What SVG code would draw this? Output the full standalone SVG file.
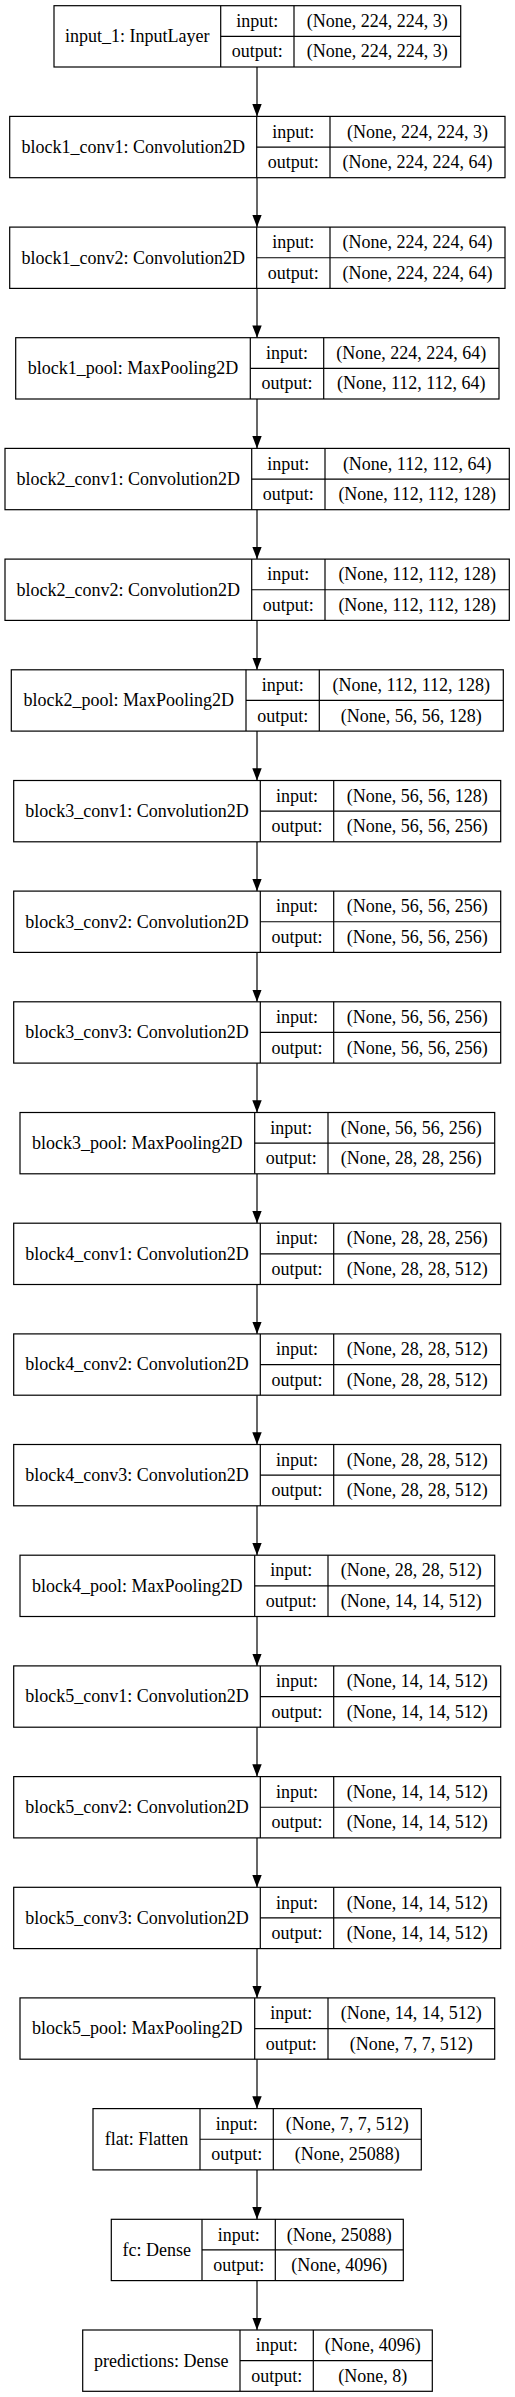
<svg xmlns="http://www.w3.org/2000/svg" width="515" height="2397" viewBox="0 0 515 2397">
<style>
rect.b{fill:#fff;stroke:#000;stroke-width:1.2}
line.d{stroke:#000;stroke-width:1.2}
text{font-family:"Liberation Serif","Times New Roman",serif;font-size:18px;fill:#000;text-anchor:middle}
.e{stroke:#000;stroke-width:1.2;fill:none;marker-end:url(#ah)}
</style>
<defs>
<marker id="ah" markerUnits="userSpaceOnUse" viewBox="0 0 12.3 9.4" markerWidth="12.3" markerHeight="9.4" refX="12.3" refY="4.7" orient="auto">
<path d="M0,0 L12.3,4.7 L0,9.4 z" fill="#000"/>
</marker>
</defs>
<rect width="515" height="2397" fill="#fff"/>
<g id="connectors">
<path class="e" d="M257,67 V116.4"/>
<path class="e" d="M257,177.7 V227.1"/>
<path class="e" d="M257,288.4 V337.7"/>
<path class="e" d="M257,399 V448.4"/>
<path class="e" d="M257,509.7 V559.1"/>
<path class="e" d="M257,620.4 V669.8"/>
<path class="e" d="M257,731.1 V780.5"/>
<path class="e" d="M257,841.8 V891.1"/>
<path class="e" d="M257,952.4 V1001.8"/>
<path class="e" d="M257,1063.1 V1112.5"/>
<path class="e" d="M257,1173.8 V1223.2"/>
<path class="e" d="M257,1284.5 V1333.9"/>
<path class="e" d="M257,1395.2 V1444.5"/>
<path class="e" d="M257,1505.8 V1555.2"/>
<path class="e" d="M257,1616.5 V1665.9"/>
<path class="e" d="M257,1727.2 V1776.6"/>
<path class="e" d="M257,1837.9 V1887.3"/>
<path class="e" d="M257,1948.6 V1997.9"/>
<path class="e" d="M257,2059.2 V2108.6"/>
<path class="e" d="M257,2169.9 V2219.3"/>
<path class="e" d="M257,2280.6 V2330"/>
</g>

<g id="input_1" transform="translate(0,5.7)">
<rect class="b" x="54" y="0" width="406.7" height="61.3"/>
<line class="d" x1="220.7" y1="0" x2="220.7" y2="61.3"/><line class="d" x1="294" y1="0" x2="294" y2="61.3"/><line class="d" x1="220.7" y1="30.65" x2="460.7" y2="30.65"/>
<text x="137.3" y="36.6">input_1: InputLayer</text>
<text x="257.3" y="21.3">input:</text><text x="257.3" y="51.8">output:</text>
<text x="377.3" y="21.3">(None, 224, 224, 3)</text><text x="377.3" y="51.8">(None, 224, 224, 3)</text>
</g>

<g id="block1_conv1" transform="translate(0,116.4)">
<rect class="b" x="9.7" y="0" width="495.3" height="61.3"/>
<line class="d" x1="256.7" y1="0" x2="256.7" y2="61.3"/><line class="d" x1="330" y1="0" x2="330" y2="61.3"/><line class="d" x1="256.7" y1="30.65" x2="505" y2="30.65"/>
<text x="133.2" y="36.6">block1_conv1: Convolution2D</text>
<text x="293.3" y="21.3">input:</text><text x="293.3" y="51.8">output:</text>
<text x="417.5" y="21.3">(None, 224, 224, 3)</text><text x="417.5" y="51.8">(None, 224, 224, 64)</text>
</g>

<g id="block1_conv2" transform="translate(0,227.1)">
<rect class="b" x="9.7" y="0" width="495.3" height="61.3"/>
<line class="d" x1="256.7" y1="0" x2="256.7" y2="61.3"/><line class="d" x1="330" y1="0" x2="330" y2="61.3"/><line class="d" x1="256.7" y1="30.65" x2="505" y2="30.65"/>
<text x="133.2" y="36.6">block1_conv2: Convolution2D</text>
<text x="293.3" y="21.3">input:</text><text x="293.3" y="51.8">output:</text>
<text x="417.5" y="21.3">(None, 224, 224, 64)</text><text x="417.5" y="51.8">(None, 224, 224, 64)</text>
</g>

<g id="block1_pool" transform="translate(0,337.7)">
<rect class="b" x="15.7" y="0" width="483.3" height="61.3"/>
<line class="d" x1="250.3" y1="0" x2="250.3" y2="61.3"/><line class="d" x1="323.7" y1="0" x2="323.7" y2="61.3"/><line class="d" x1="250.3" y1="30.65" x2="499" y2="30.65"/>
<text x="133" y="36.6">block1_pool: MaxPooling2D</text>
<text x="287" y="21.3">input:</text><text x="287" y="51.8">output:</text>
<text x="411.3" y="21.3">(None, 224, 224, 64)</text><text x="411.3" y="51.8">(None, 112, 112, 64)</text>
</g>

<g id="block2_conv1" transform="translate(0,448.4)">
<rect class="b" x="5" y="0" width="504.3" height="61.3"/>
<line class="d" x1="251.7" y1="0" x2="251.7" y2="61.3"/><line class="d" x1="325" y1="0" x2="325" y2="61.3"/><line class="d" x1="251.7" y1="30.65" x2="509.3" y2="30.65"/>
<text x="128.3" y="36.6">block2_conv1: Convolution2D</text>
<text x="288.3" y="21.3">input:</text><text x="288.3" y="51.8">output:</text>
<text x="417.2" y="21.3">(None, 112, 112, 64)</text><text x="417.2" y="51.8">(None, 112, 112, 128)</text>
</g>

<g id="block2_conv2" transform="translate(0,559.1)">
<rect class="b" x="5" y="0" width="504.3" height="61.3"/>
<line class="d" x1="251.7" y1="0" x2="251.7" y2="61.3"/><line class="d" x1="325" y1="0" x2="325" y2="61.3"/><line class="d" x1="251.7" y1="30.65" x2="509.3" y2="30.65"/>
<text x="128.3" y="36.6">block2_conv2: Convolution2D</text>
<text x="288.3" y="21.3">input:</text><text x="288.3" y="51.8">output:</text>
<text x="417.2" y="21.3">(None, 112, 112, 128)</text><text x="417.2" y="51.8">(None, 112, 112, 128)</text>
</g>

<g id="block2_pool" transform="translate(0,669.8)">
<rect class="b" x="11.3" y="0" width="492" height="61.3"/>
<line class="d" x1="246" y1="0" x2="246" y2="61.3"/><line class="d" x1="319.3" y1="0" x2="319.3" y2="61.3"/><line class="d" x1="246" y1="30.65" x2="503.3" y2="30.65"/>
<text x="128.7" y="36.6">block2_pool: MaxPooling2D</text>
<text x="282.7" y="21.3">input:</text><text x="282.7" y="51.8">output:</text>
<text x="411.3" y="21.3">(None, 112, 112, 128)</text><text x="411.3" y="51.8">(None, 56, 56, 128)</text>
</g>

<g id="block3_conv1" transform="translate(0,780.5)">
<rect class="b" x="13.7" y="0" width="487" height="61.3"/>
<line class="d" x1="260.3" y1="0" x2="260.3" y2="61.3"/><line class="d" x1="333.7" y1="0" x2="333.7" y2="61.3"/><line class="d" x1="260.3" y1="30.65" x2="500.7" y2="30.65"/>
<text x="137" y="36.6">block3_conv1: Convolution2D</text>
<text x="297" y="21.3">input:</text><text x="297" y="51.8">output:</text>
<text x="417.2" y="21.3">(None, 56, 56, 128)</text><text x="417.2" y="51.8">(None, 56, 56, 256)</text>
</g>

<g id="block3_conv2" transform="translate(0,891.1)">
<rect class="b" x="13.7" y="0" width="487" height="61.3"/>
<line class="d" x1="260.3" y1="0" x2="260.3" y2="61.3"/><line class="d" x1="333.7" y1="0" x2="333.7" y2="61.3"/><line class="d" x1="260.3" y1="30.65" x2="500.7" y2="30.65"/>
<text x="137" y="36.6">block3_conv2: Convolution2D</text>
<text x="297" y="21.3">input:</text><text x="297" y="51.8">output:</text>
<text x="417.2" y="21.3">(None, 56, 56, 256)</text><text x="417.2" y="51.8">(None, 56, 56, 256)</text>
</g>

<g id="block3_conv3" transform="translate(0,1001.8)">
<rect class="b" x="13.7" y="0" width="487" height="61.3"/>
<line class="d" x1="260.3" y1="0" x2="260.3" y2="61.3"/><line class="d" x1="333.7" y1="0" x2="333.7" y2="61.3"/><line class="d" x1="260.3" y1="30.65" x2="500.7" y2="30.65"/>
<text x="137" y="36.6">block3_conv3: Convolution2D</text>
<text x="297" y="21.3">input:</text><text x="297" y="51.8">output:</text>
<text x="417.2" y="21.3">(None, 56, 56, 256)</text><text x="417.2" y="51.8">(None, 56, 56, 256)</text>
</g>

<g id="block3_pool" transform="translate(0,1112.5)">
<rect class="b" x="20" y="0" width="474.7" height="61.3"/>
<line class="d" x1="254.7" y1="0" x2="254.7" y2="61.3"/><line class="d" x1="328" y1="0" x2="328" y2="61.3"/><line class="d" x1="254.7" y1="30.65" x2="494.7" y2="30.65"/>
<text x="137.3" y="36.6">block3_pool: MaxPooling2D</text>
<text x="291.3" y="21.3">input:</text><text x="291.3" y="51.8">output:</text>
<text x="411.3" y="21.3">(None, 56, 56, 256)</text><text x="411.3" y="51.8">(None, 28, 28, 256)</text>
</g>

<g id="block4_conv1" transform="translate(0,1223.2)">
<rect class="b" x="13.7" y="0" width="487" height="61.3"/>
<line class="d" x1="260.3" y1="0" x2="260.3" y2="61.3"/><line class="d" x1="333.7" y1="0" x2="333.7" y2="61.3"/><line class="d" x1="260.3" y1="30.65" x2="500.7" y2="30.65"/>
<text x="137" y="36.6">block4_conv1: Convolution2D</text>
<text x="297" y="21.3">input:</text><text x="297" y="51.8">output:</text>
<text x="417.2" y="21.3">(None, 28, 28, 256)</text><text x="417.2" y="51.8">(None, 28, 28, 512)</text>
</g>

<g id="block4_conv2" transform="translate(0,1333.9)">
<rect class="b" x="13.7" y="0" width="487" height="61.3"/>
<line class="d" x1="260.3" y1="0" x2="260.3" y2="61.3"/><line class="d" x1="333.7" y1="0" x2="333.7" y2="61.3"/><line class="d" x1="260.3" y1="30.65" x2="500.7" y2="30.65"/>
<text x="137" y="36.6">block4_conv2: Convolution2D</text>
<text x="297" y="21.3">input:</text><text x="297" y="51.8">output:</text>
<text x="417.2" y="21.3">(None, 28, 28, 512)</text><text x="417.2" y="51.8">(None, 28, 28, 512)</text>
</g>

<g id="block4_conv3" transform="translate(0,1444.5)">
<rect class="b" x="13.7" y="0" width="487" height="61.3"/>
<line class="d" x1="260.3" y1="0" x2="260.3" y2="61.3"/><line class="d" x1="333.7" y1="0" x2="333.7" y2="61.3"/><line class="d" x1="260.3" y1="30.65" x2="500.7" y2="30.65"/>
<text x="137" y="36.6">block4_conv3: Convolution2D</text>
<text x="297" y="21.3">input:</text><text x="297" y="51.8">output:</text>
<text x="417.2" y="21.3">(None, 28, 28, 512)</text><text x="417.2" y="51.8">(None, 28, 28, 512)</text>
</g>

<g id="block4_pool" transform="translate(0,1555.2)">
<rect class="b" x="20" y="0" width="474.7" height="61.3"/>
<line class="d" x1="254.7" y1="0" x2="254.7" y2="61.3"/><line class="d" x1="328" y1="0" x2="328" y2="61.3"/><line class="d" x1="254.7" y1="30.65" x2="494.7" y2="30.65"/>
<text x="137.3" y="36.6">block4_pool: MaxPooling2D</text>
<text x="291.3" y="21.3">input:</text><text x="291.3" y="51.8">output:</text>
<text x="411.3" y="21.3">(None, 28, 28, 512)</text><text x="411.3" y="51.8">(None, 14, 14, 512)</text>
</g>

<g id="block5_conv1" transform="translate(0,1665.9)">
<rect class="b" x="13.7" y="0" width="487" height="61.3"/>
<line class="d" x1="260.3" y1="0" x2="260.3" y2="61.3"/><line class="d" x1="333.7" y1="0" x2="333.7" y2="61.3"/><line class="d" x1="260.3" y1="30.65" x2="500.7" y2="30.65"/>
<text x="137" y="36.6">block5_conv1: Convolution2D</text>
<text x="297" y="21.3">input:</text><text x="297" y="51.8">output:</text>
<text x="417.2" y="21.3">(None, 14, 14, 512)</text><text x="417.2" y="51.8">(None, 14, 14, 512)</text>
</g>

<g id="block5_conv2" transform="translate(0,1776.6)">
<rect class="b" x="13.7" y="0" width="487" height="61.3"/>
<line class="d" x1="260.3" y1="0" x2="260.3" y2="61.3"/><line class="d" x1="333.7" y1="0" x2="333.7" y2="61.3"/><line class="d" x1="260.3" y1="30.65" x2="500.7" y2="30.65"/>
<text x="137" y="36.6">block5_conv2: Convolution2D</text>
<text x="297" y="21.3">input:</text><text x="297" y="51.8">output:</text>
<text x="417.2" y="21.3">(None, 14, 14, 512)</text><text x="417.2" y="51.8">(None, 14, 14, 512)</text>
</g>

<g id="block5_conv3" transform="translate(0,1887.3)">
<rect class="b" x="13.7" y="0" width="487" height="61.3"/>
<line class="d" x1="260.3" y1="0" x2="260.3" y2="61.3"/><line class="d" x1="333.7" y1="0" x2="333.7" y2="61.3"/><line class="d" x1="260.3" y1="30.65" x2="500.7" y2="30.65"/>
<text x="137" y="36.6">block5_conv3: Convolution2D</text>
<text x="297" y="21.3">input:</text><text x="297" y="51.8">output:</text>
<text x="417.2" y="21.3">(None, 14, 14, 512)</text><text x="417.2" y="51.8">(None, 14, 14, 512)</text>
</g>

<g id="block5_pool" transform="translate(0,1997.9)">
<rect class="b" x="20" y="0" width="474.7" height="61.3"/>
<line class="d" x1="254.7" y1="0" x2="254.7" y2="61.3"/><line class="d" x1="328" y1="0" x2="328" y2="61.3"/><line class="d" x1="254.7" y1="30.65" x2="494.7" y2="30.65"/>
<text x="137.3" y="36.6">block5_pool: MaxPooling2D</text>
<text x="291.3" y="21.3">input:</text><text x="291.3" y="51.8">output:</text>
<text x="411.3" y="21.3">(None, 14, 14, 512)</text><text x="411.3" y="51.8">(None, 7, 7, 512)</text>
</g>

<g id="flat" transform="translate(0,2108.6)">
<rect class="b" x="93" y="0" width="328.3" height="61.3"/>
<line class="d" x1="200" y1="0" x2="200" y2="61.3"/><line class="d" x1="273.3" y1="0" x2="273.3" y2="61.3"/><line class="d" x1="200" y1="30.65" x2="421.3" y2="30.65"/>
<text x="146.5" y="36.6">flat: Flatten</text>
<text x="236.7" y="21.3">input:</text><text x="236.7" y="51.8">output:</text>
<text x="347.3" y="21.3">(None, 7, 7, 512)</text><text x="347.3" y="51.8">(None, 25088)</text>
</g>

<g id="fc" transform="translate(0,2219.3)">
<rect class="b" x="111.3" y="0" width="292" height="61.3"/>
<line class="d" x1="202" y1="0" x2="202" y2="61.3"/><line class="d" x1="275.3" y1="0" x2="275.3" y2="61.3"/><line class="d" x1="202" y1="30.65" x2="403.3" y2="30.65"/>
<text x="156.7" y="36.6">fc: Dense</text>
<text x="238.7" y="21.3">input:</text><text x="238.7" y="51.8">output:</text>
<text x="339.3" y="21.3">(None, 25088)</text><text x="339.3" y="51.8">(None, 4096)</text>
</g>

<g id="predictions" transform="translate(0,2330)">
<rect class="b" x="82.7" y="0" width="349.6" height="61.3"/>
<line class="d" x1="240" y1="0" x2="240" y2="61.3"/><line class="d" x1="313.3" y1="0" x2="313.3" y2="61.3"/><line class="d" x1="240" y1="30.65" x2="432.3" y2="30.65"/>
<text x="161.3" y="36.6">predictions: Dense</text>
<text x="276.7" y="21.3">input:</text><text x="276.7" y="51.8">output:</text>
<text x="372.8" y="21.3">(None, 4096)</text><text x="372.8" y="51.8">(None, 8)</text>
</g>
</svg>
